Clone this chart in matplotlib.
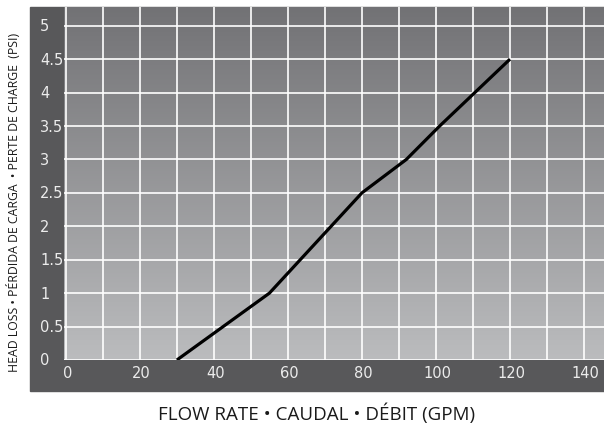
import numpy as np
import matplotlib.pyplot as plt
from matplotlib.patches import Rectangle
from matplotlib.colors import LinearSegmentedColormap

# data
flow = [30, 55, 80, 92, 101, 120]
loss = [0, 1, 2.5, 3, 3.5, 4.5]
xticks = [0, 20, 40, 60, 80, 100, 120, 140]
yticks = [0, 0.5, 1, 1.5, 2, 2.5, 3, 3.5, 4, 4.5, 5]
ytick_labels = ["0", "0.5", "1", "1.5", "2", "2.5", "3", "3.5", "4", "4.5", "5"]

W, H = 604, 427
fig = plt.figure(figsize=(W / 100, H / 100), dpi=100)

# dark frame behind the plot
fig.patches.append(Rectangle((30 / W, (H - 392) / H), (W - 30) / W, (392 - 8) / H,
                             transform=fig.transFigure, color="#58585a", zorder=-5))

ax = fig.add_axes([64 / W, (H - 361) / H, (W - 64) / W, (361 - 8) / H], zorder=2)
ax.set_facecolor("none")
ax.set_xlim(-0.5, 145.4)
ax.set_ylim(0, 5.28)

# gradient background (dark top -> light bottom)
cmap = LinearSegmentedColormap.from_list("bg", ["#bbbcbe", "#727275"])
grad = np.linspace(0, 1, 256).reshape(-1, 1)
ax.imshow(grad, cmap=cmap, aspect="auto", origin="lower",
          extent=[-0.5, 145.4, 0, 5.28], zorder=0)

for xv in np.arange(0, 150, 10):
    ax.axvline(xv, color="white", lw=1.2, zorder=1)
for yv in yticks:
    ax.axhline(yv, color="white", lw=1.2, zorder=1)

ax.plot(flow, loss, color="black", lw=2.3, zorder=3, solid_capstyle="butt")

ax.set_xticks([])
ax.set_yticks([])
for s in ax.spines.values():
    s.set_visible(False)

tick_font = ["Liberation Sans Narrow", "DejaVu Sans"]
ytr = ax.get_yaxis_transform()
for yv, lab in zip(yticks, ytick_labels):
    ax.text(-24 / (W - 64), yv, lab, transform=ytr, ha="left", va="center",
            color="#ececec", fontsize=10.5, family=tick_font, clip_on=False)
xtr = ax.get_xaxis_transform()
for xv in xticks:
    ax.text(xv + 0.5, -13 / (361 - 8), str(xv), transform=xtr, ha="center", va="center",
            color="#ececec", fontsize=10.5, family=tick_font, clip_on=False)

fig.text(14 / W, 1 - 202 / H, "HEAD LOSS • PÉRDIDA DE CARGA  • PERTE DE CHARGE  (PSI)",
         rotation=90, ha="center", va="center", fontsize=8.8, family=["Open Sans", "DejaVu Sans"],
         color="#1a1a1a")
fig.text(317 / W, 1 - 414 / H, "FLOW RATE • CAUDAL • DÉBIT (GPM)", ha="center", va="center",
         fontsize=13.5, family=["Open Sans", "DejaVu Sans"], color="#1a1a1a")

fig.savefig("out.png", dpi=100)
